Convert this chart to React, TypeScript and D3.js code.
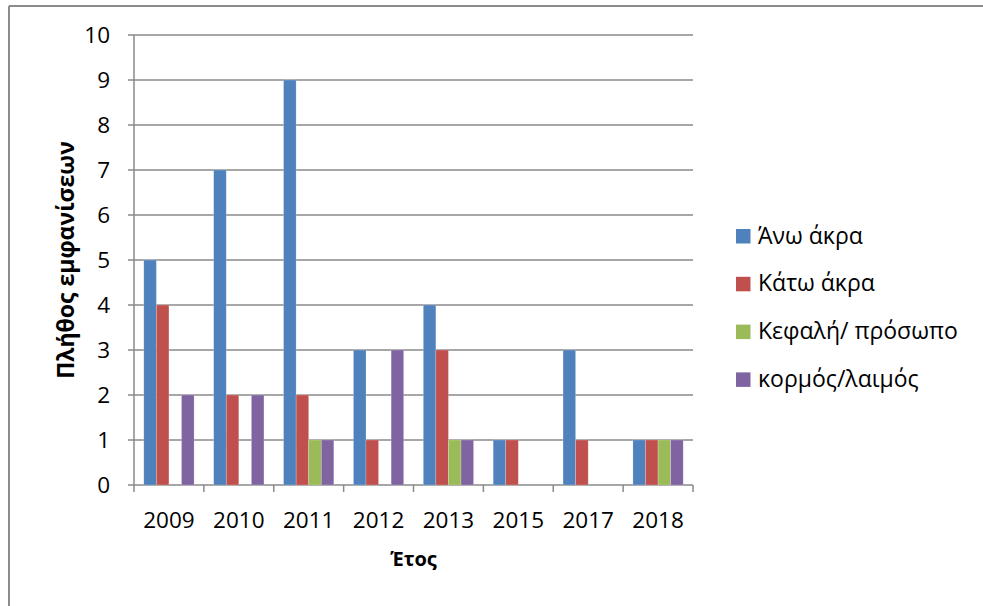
import React from "react";
import * as d3 from "d3";

// Years on the category axis
const years = ["2009", "2010", "2011", "2012", "2013", "2015", "2017", "2018"];

// Series names (legend order)
const seriesNames = ["Άνω άκρα", "Κάτω άκρα", "Κεφαλή/ πρόσωπο", "κορμός/λαιμός"];
const seriesColors = ["#4F81BD", "#C0504D", "#9BBB59", "#8064A2"];

// Counts per year for each series
const anoAkra = [5, 7, 9, 3, 4, 1, 3, 1];
const katoAkra = [4, 2, 2, 1, 3, 1, 1, 1];
const kefali = [0, 0, 1, 0, 1, 0, 0, 1];
const kormos = [2, 2, 1, 3, 1, 0, 0, 1];

const yTicks = [0, 1, 2, 3, 4, 5, 6, 7, 8, 9, 10];

const yTitle = "Πλήθος εμφανίσεων";
const xTitle = "Έτος";

const W = 983;
const H = 606;
const FONT = "'Open Sans', 'Noto Sans', sans-serif";

export default function App() {
  const seriesValues = [anoAkra, katoAkra, kefali, kormos];

  const left = 134;
  const right = 693;
  const top = 35;
  const bottom = 485;

  const x = d3.scaleBand<string>().domain(years).range([left, right]).paddingInner(0).paddingOuter(0);
  const y = d3.scaleLinear().domain([0, 10]).range([bottom, top]);
  const bw = x.bandwidth();
  const inner = d3
    .scaleBand<number>()
    .domain(d3.range(seriesNames.length))
    .range([0, bw])
    .paddingOuter(0.78)
    .paddingInner(0);

  const gridColor = "#8a8a8a";

  const legendX = 736;
  const legendY0 = 236;
  const legendStep = 47.8;

  return (
    <svg
      width={W}
      height={H}
      style={{ position: "absolute", left: 0, top: 0, background: "#fff" }}
      fontFamily={FONT}
    >
      {/* outer frame */}
      <line x1={9} y1={6} x2={9} y2={H} stroke="#8c8c8c" strokeWidth={2} />
      <line x1={9} y1={6} x2={W} y2={6} stroke="#8c8c8c" strokeWidth={2} />

      {/* gridlines and y tick labels */}
      {yTicks.map((t) => (
        <g key={t}>
          <line x1={left - 6} x2={right} y1={y(t)} y2={y(t)} stroke={gridColor} strokeWidth={1.5} />
          <text x={110} y={y(t) + 8} textAnchor="end" fontSize={22.5} fill="#000">
            {t}
          </text>
        </g>
      ))}

      {/* y axis line */}
      <line x1={left} x2={left} y1={top} y2={bottom} stroke={gridColor} strokeWidth={1.5} />

      {/* bars */}
      {years.map((yr, i) => (
        <g key={yr}>
          {seriesValues.map((vals, s) =>
            vals[i] > 0 ? (
              <rect
                key={s}
                x={(x(yr) as number) + (inner(s) as number)}
                y={y(vals[i])}
                width={inner.bandwidth()}
                height={y(0) - y(vals[i])}
                fill={seriesColors[s]}
                stroke="#ffffff"
                strokeOpacity={0.35}
                strokeWidth={0.6}
              />
            ) : null
          )}
        </g>
      ))}

      {/* x axis ticks */}
      {d3.range(years.length + 1).map((k) => {
        const xx = left + k * bw;
        return <line key={k} x1={xx} x2={xx} y1={bottom} y2={bottom + 7} stroke={gridColor} strokeWidth={1.5} />;
      })}

      {/* x tick labels */}
      {years.map((yr) => (
        <text key={yr} x={(x(yr) as number) + bw / 2} y={528} textAnchor="middle" fontSize={22.5} fill="#000">
          {yr}
        </text>
      ))}

      {/* axis titles */}
      <text x={(left + right) / 2} y={566} textAnchor="middle" fontSize={20} fontWeight="bold" fill="#000">
        {xTitle}
      </text>
      <text
        transform={`translate(74, ${(top + bottom) / 2}) rotate(-90)`}
        textAnchor="middle"
        fontSize={23}
        fontWeight="bold"
        fill="#000"
      >
        {yTitle}
      </text>

      {/* legend */}
      {seriesNames.map((name, s) => {
        const cy = legendY0 + s * legendStep;
        return (
          <g key={name}>
            <rect x={legendX} y={cy - 7} width={14.5} height={14.5} fill={seriesColors[s]} />
            <text x={758} y={cy + 7.5} fontSize={23} fill="#000">
              {name}
            </text>
          </g>
        );
      })}
    </svg>
  );
}
